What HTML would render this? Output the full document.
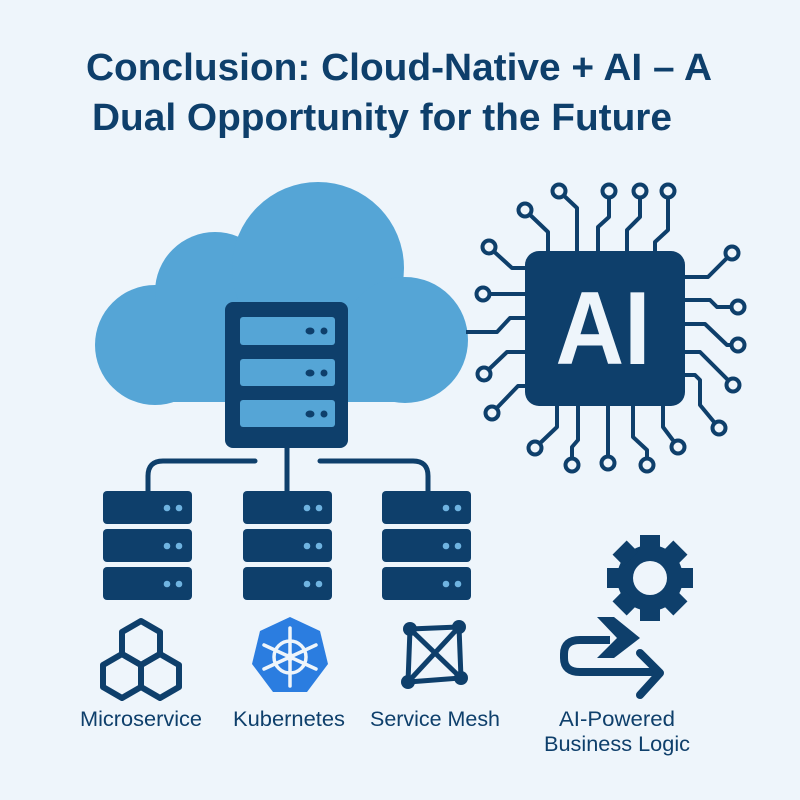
<!DOCTYPE html>
<html><head><meta charset="utf-8"><style>
html,body{margin:0;padding:0;background:#eef5fb;}
svg{display:block;}
</style></head><body>
<svg width="800" height="800" viewBox="0 0 800 800" xmlns="http://www.w3.org/2000/svg">
<rect width="800" height="800" fill="#eef5fb"/>
<g font-family="Liberation Sans, sans-serif" font-weight="bold" fill="#0e3f6b" font-size="38">
<text x="86" y="80" textLength="626" lengthAdjust="spacingAndGlyphs">Conclusion: Cloud-Native + AI – A</text>
<text x="92" y="130" textLength="580" lengthAdjust="spacingAndGlyphs">Dual Opportunity for the Future</text>
</g>
<!-- cloud -->
<g fill="#55a5d6">
<circle cx="155" cy="345" r="60"/>
<circle cx="215" cy="292" r="60"/>
<circle cx="318" cy="268" r="86"/>
<circle cx="405" cy="340" r="63"/>
<rect x="150" y="300" width="260" height="102"/>
</g>
<!-- pins -->
<g fill="none" stroke="#0e3f6b" stroke-width="4" stroke-linejoin="round">
<polyline points="525,210 548,232 548,252"/>
<polyline points="559,191 577,208 577,252"/>
<polyline points="609,191 609,217 598,227 598,252"/>
<polyline points="640,191 640,217 627,230 627,252"/>
<polyline points="668,191 668,230 655,242 655,252"/>
<polyline points="489,247 512,268 525,268"/>
<polyline points="483,294 525,294"/>
<polyline points="466,332 497,332 510,318 525,318"/>
<polyline points="484,374 507,352 525,352"/>
<polyline points="492,413 518,386 525,386"/>
<polyline points="732,253 708,277 685,277"/>
<polyline points="738,307 717,307 710,300 685,300"/>
<polyline points="738,345 727,345 705,324 685,324"/>
<polyline points="733,385 700,352 685,352"/>
<polyline points="719,428 700,405 700,380 695,375 685,375"/>
<polyline points="535,448 557,427 557,405"/>
<polyline points="572,465 572,447 578,440 578,405"/>
<polyline points="608,463 608,405"/>
<polyline points="647,465 647,450 633,437 633,405"/>
<polyline points="678,447 663,427 663,405"/>
</g>
<g fill="#eef5fb" stroke="#0e3f6b" stroke-width="4">
<circle cx="525" cy="210" r="6.5"/><circle cx="559" cy="191" r="6.5"/><circle cx="609" cy="191" r="6.5"/><circle cx="640" cy="191" r="6.5"/><circle cx="668" cy="191" r="6.5"/>
<circle cx="489" cy="247" r="6.5"/><circle cx="483" cy="294" r="6.5"/><circle cx="484" cy="374" r="6.5"/><circle cx="492" cy="413" r="6.5"/>
<circle cx="732" cy="253" r="6.5"/><circle cx="738" cy="307" r="6.5"/><circle cx="738" cy="345" r="6.5"/><circle cx="733" cy="385" r="6.5"/><circle cx="719" cy="428" r="6.5"/>
<circle cx="535" cy="448" r="6.5"/><circle cx="572" cy="465" r="6.5"/><circle cx="608" cy="463" r="6.5"/><circle cx="647" cy="465" r="6.5"/><circle cx="678" cy="447" r="6.5"/>
</g>
<rect x="525" y="251" width="160" height="155" rx="14" fill="#0e3f6b"/>
<text x="603" y="364" text-anchor="middle" font-family="Liberation Sans, sans-serif" font-weight="bold" font-size="104" fill="#eef5fb" textLength="95" lengthAdjust="spacingAndGlyphs">AI</text>
<!-- main server -->
<rect x="225" y="302" width="123" height="146" rx="8" fill="#0e3f6b"/>
<g fill="#55a5d6">
<rect x="240" y="317" width="95" height="28" rx="3"/>
<rect x="240" y="359" width="95" height="27" rx="3"/>
<rect x="240" y="400" width="95" height="27" rx="3"/>
</g>
<g fill="#0e3f6b">
<ellipse cx="310" cy="331" rx="4.5" ry="3.5"/><circle cx="324" cy="331" r="3.5"/>
<ellipse cx="310" cy="373" rx="4.5" ry="3.5"/><circle cx="324" cy="373" r="3.5"/>
<ellipse cx="310" cy="414" rx="4.5" ry="3.5"/><circle cx="324" cy="414" r="3.5"/>
</g>
<!-- branches -->
<g fill="none" stroke="#0e3f6b" stroke-width="5" stroke-linecap="round">
<line x1="287" y1="448" x2="287" y2="492"/>
<path d="M255 461 H163 Q148 461 148 476 V492"/>
<path d="M320 461 H413 Q428 461 428 476 V492"/>
</g>
<!-- small servers -->
<g id="ss">
<g fill="#0e3f6b">
<rect x="103" y="491" width="89" height="33" rx="4"/>
<rect x="103" y="529" width="89" height="33" rx="4"/>
<rect x="103" y="567" width="89" height="33" rx="4"/>
</g>
<g fill="#6fb3e0">
<circle cx="167" cy="508" r="3.3"/><circle cx="179" cy="508" r="3.3"/>
<circle cx="167" cy="546" r="3.3"/><circle cx="179" cy="546" r="3.3"/>
<circle cx="167" cy="584" r="3.3"/><circle cx="179" cy="584" r="3.3"/>
</g>
</g>
<use href="#ss" x="140"/>
<use href="#ss" x="279"/>
<!-- hexagons -->
<g fill="none" stroke="#0e3f6b" stroke-width="6" stroke-linejoin="round">
<polygon points="141,621 160,632 160,654 141,665 122,654 122,632"/>
<polygon points="122,654 141,665 141,687 122,698 103,687 103,665"/>
<polygon points="160,654 179,665 179,687 160,698 141,687 141,665"/>
</g>
<!-- kubernetes -->
<polygon points="290,617 320,631 328,664 307,692 273,692 252,664 260,631" fill="#2b7de0"/>
<g stroke="#eef5fb" stroke-width="3.5" fill="none" stroke-linecap="round">
<circle cx="290" cy="657" r="16"/>
<line x1="290" y1="628" x2="290" y2="686"/>
<line x1="264" y1="645" x2="316" y2="669"/>
<line x1="316" y1="645" x2="264" y2="669"/>
</g>
<circle cx="290" cy="657" r="4" fill="#eef5fb"/>
<!-- service mesh -->
<g stroke="#0e3f6b" stroke-width="5" fill="none">
<polygon points="410,629 459,627 461,678 408,682"/>
<line x1="410" y1="629" x2="461" y2="678"/>
<line x1="459" y1="627" x2="408" y2="682"/>
</g>
<g fill="#0e3f6b">
<circle cx="410" cy="629" r="7"/><circle cx="459" cy="627" r="7"/><circle cx="461" cy="678" r="7"/><circle cx="408" cy="682" r="7"/>
</g>
<!-- gear -->
<g transform="translate(650,578)" fill="#0e3f6b">
<circle r="33"/>
<g>
<rect x="-10" y="-43" width="20" height="16"/>
<rect x="-10" y="-43" width="20" height="16" transform="rotate(45)"/>
<rect x="-10" y="-43" width="20" height="16" transform="rotate(90)"/>
<rect x="-10" y="-43" width="20" height="16" transform="rotate(135)"/>
<rect x="-10" y="-43" width="20" height="16" transform="rotate(180)"/>
<rect x="-10" y="-43" width="20" height="16" transform="rotate(225)"/>
<rect x="-10" y="-43" width="20" height="16" transform="rotate(270)"/>
<rect x="-10" y="-43" width="20" height="16" transform="rotate(315)"/>
</g>
<circle r="17" fill="#eef5fb"/>
</g>
<!-- flow arrow -->
<polygon points="597,617 614,617 640,638 614,658 597,658 617,638" fill="#0e3f6b"/>
<path d="M610 640 H580 Q564 640 564 654 V658 Q564 672 580 672 H660" fill="none" stroke="#0e3f6b" stroke-width="8"/>
<polyline points="640,653 660,673 640,695" fill="none" stroke="#0e3f6b" stroke-width="8" stroke-linecap="round" stroke-linejoin="round"/>
<!-- labels -->
<g font-family="Liberation Sans, sans-serif" font-size="21" fill="#0e3f6b" text-anchor="middle">
<text x="141" y="726" textLength="122" lengthAdjust="spacingAndGlyphs">Microservice</text>
<text x="289" y="726" textLength="112" lengthAdjust="spacingAndGlyphs">Kubernetes</text>
<text x="435" y="726" textLength="130" lengthAdjust="spacingAndGlyphs">Service Mesh</text>
<text x="617" y="726" textLength="116" lengthAdjust="spacingAndGlyphs">AI-Powered</text>
<text x="617" y="751" textLength="146" lengthAdjust="spacingAndGlyphs">Business Logic</text>
</g>
</svg>
</body></html>
